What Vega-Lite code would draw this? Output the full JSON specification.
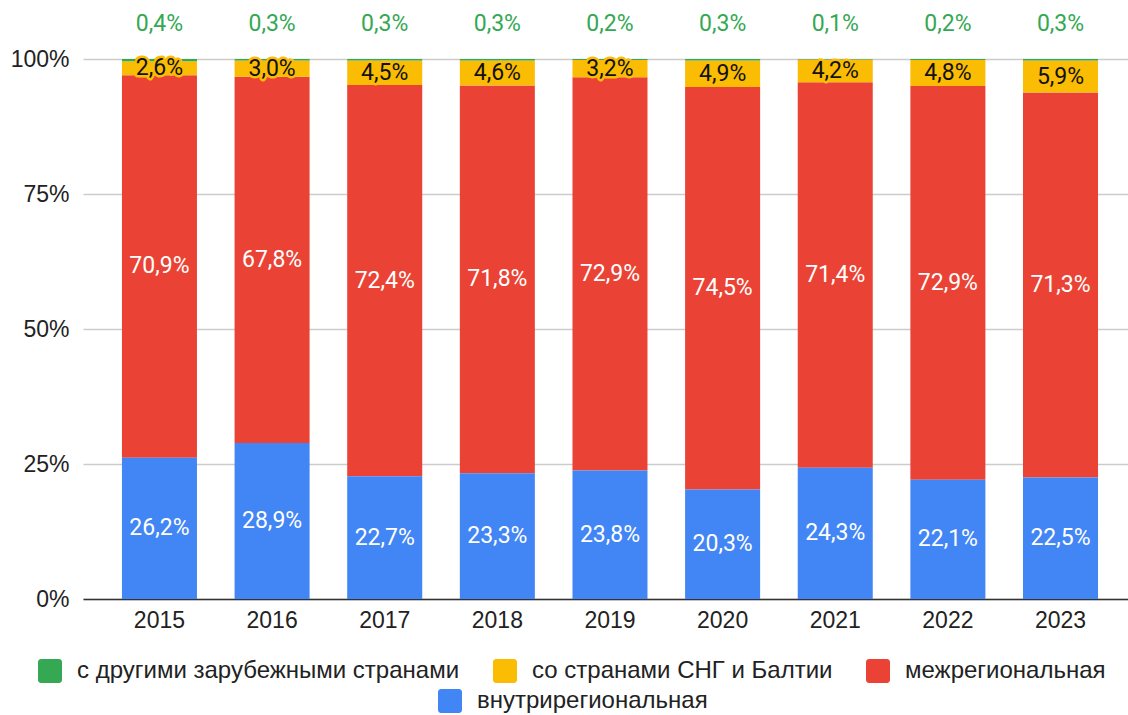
{
  "$schema": "https://vega.github.io/schema/vega-lite/v6.json",
  "width": 1045,
  "height": 540,
  "autosize": {"type": "none"},
  "padding": {"left": 83, "top": 59, "right": 0, "bottom": 116},
  "background": "white",
  "data": {
    "values": [
      {"year": "2015", "cat": "внутрирегиональная", "share": 0.262},
      {"year": "2015", "cat": "межрегиональная", "share": 0.709},
      {"year": "2015", "cat": "со странами СНГ и Балтии", "share": 0.026},
      {"year": "2015", "cat": "с другими зарубежными странами", "share": 0.004},
      {"year": "2016", "cat": "внутрирегиональная", "share": 0.289},
      {"year": "2016", "cat": "межрегиональная", "share": 0.678},
      {"year": "2016", "cat": "со странами СНГ и Балтии", "share": 0.030},
      {"year": "2016", "cat": "с другими зарубежными странами", "share": 0.003},
      {"year": "2017", "cat": "внутрирегиональная", "share": 0.227},
      {"year": "2017", "cat": "межрегиональная", "share": 0.724},
      {"year": "2017", "cat": "со странами СНГ и Балтии", "share": 0.045},
      {"year": "2017", "cat": "с другими зарубежными странами", "share": 0.003},
      {"year": "2018", "cat": "внутрирегиональная", "share": 0.233},
      {"year": "2018", "cat": "межрегиональная", "share": 0.718},
      {"year": "2018", "cat": "со странами СНГ и Балтии", "share": 0.046},
      {"year": "2018", "cat": "с другими зарубежными странами", "share": 0.003},
      {"year": "2019", "cat": "внутрирегиональная", "share": 0.238},
      {"year": "2019", "cat": "межрегиональная", "share": 0.729},
      {"year": "2019", "cat": "со странами СНГ и Балтии", "share": 0.032},
      {"year": "2019", "cat": "с другими зарубежными странами", "share": 0.002},
      {"year": "2020", "cat": "внутрирегиональная", "share": 0.203},
      {"year": "2020", "cat": "межрегиональная", "share": 0.745},
      {"year": "2020", "cat": "со странами СНГ и Балтии", "share": 0.049},
      {"year": "2020", "cat": "с другими зарубежными странами", "share": 0.003},
      {"year": "2021", "cat": "внутрирегиональная", "share": 0.243},
      {"year": "2021", "cat": "межрегиональная", "share": 0.714},
      {"year": "2021", "cat": "со странами СНГ и Балтии", "share": 0.042},
      {"year": "2021", "cat": "с другими зарубежными странами", "share": 0.001},
      {"year": "2022", "cat": "внутрирегиональная", "share": 0.221},
      {"year": "2022", "cat": "межрегиональная", "share": 0.729},
      {"year": "2022", "cat": "со странами СНГ и Балтии", "share": 0.048},
      {"year": "2022", "cat": "с другими зарубежными странами", "share": 0.002},
      {"year": "2023", "cat": "внутрирегиональная", "share": 0.225},
      {"year": "2023", "cat": "межрегиональная", "share": 0.713},
      {"year": "2023", "cat": "со странами СНГ и Балтии", "share": 0.059},
      {"year": "2023", "cat": "с другими зарубежными странами", "share": 0.003}
    ]
  },
  "transform": [
    {"calculate": "indexof(['внутрирегиональная','межрегиональная','со странами СНГ и Балтии','с другими зарубежными странами'], datum.cat)", "as": "ord"},
    {"stack": "share", "groupby": ["year"], "sort": [{"field": "ord", "order": "ascending"}], "offset": "normalize", "as": ["y0", "y1"]},
    {"calculate": "(datum.y0 + datum.y1) / 2", "as": "ymid"}
  ],
  "encoding": {
    "x": {
      "field": "year",
      "type": "ordinal",
      "scale": {"paddingInner": 0.334, "paddingOuter": 0.306, "align": 0.565},
      "axis": {
        "title": null,
        "labelAngle": 0,
        "ticks": false,
        "domainColor": "#333333",
        "domainWidth": 1.5,
        "labelFontSize": 23,
        "labelFont": "Liberation Sans",
        "labelColor": "#222222",
        "labelPadding": 10
      }
    }
  },
  "layer": [
    {
      "transform": [{"filter": "datum.cat != 'внутрирегиональная'"}],
      "mark": {"type": "bar"},
      "encoding": {
        "y": {
          "field": "y0",
          "type": "quantitative",
          "scale": {"domain": [0, 1], "nice": false},
          "axis": {"title": null, "values": [0, 0.25, 0.5, 0.75, 1], "format": ".0%", "domain": false, "ticks": false, "gridColor": "#cccccc", "gridWidth": 1.5, "labelFontSize": 23, "labelFont": "Liberation Sans", "labelColor": "#222222", "labelPadding": 14}
        },
        "y2": {"field": "y1"},
        "color": {
          "field": "cat",
          "type": "nominal",
          "scale": {
            "domain": ["с другими зарубежными странами", "со странами СНГ и Балтии", "межрегиональная"],
            "range": ["#34a853", "#fbbc04", "#ea4335"]
          },
          "legend": {
            "title": null,
            "orient": "none",
            "legendX": -45,
            "legendY": 600,
            "direction": "horizontal",
            "symbolType": "M-0.75,-1H0.75A0.25,0.25 0 0 1 1,-0.75V0.75A0.25,0.25 0 0 1 0.75,1H-0.75A0.25,0.25 0 0 1 -1,0.75V-0.75A0.25,0.25 0 0 1 -0.75,-1Z",
            "symbolSize": 576,
            "symbolStrokeWidth": 0,
            "symbolOpacity": 1,
            "labelFontSize": 24,
            "labelFont": "Liberation Sans",
            "labelColor": "#222222",
            "labelOffset": 15,
            "labelLimit": 600,
            "columnPadding": 33,
            "padding": 0
          }
        }
      }
    },
    {
      "transform": [{"filter": "datum.cat == 'внутрирегиональная'"}],
      "mark": {"type": "bar"},
      "encoding": {
        "y": {
          "field": "y0",
          "type": "quantitative",
          "scale": {"domain": [0, 1], "nice": false},
          "axis": {"title": null, "values": [0, 0.25, 0.5, 0.75, 1], "format": ".0%", "domain": false, "ticks": false, "gridColor": "#cccccc", "gridWidth": 1.5, "labelFontSize": 23, "labelFont": "Liberation Sans", "labelColor": "#222222", "labelPadding": 14}
        },
        "y2": {"field": "y1"},
        "fill": {
          "field": "cat",
          "type": "nominal",
          "scale": {"domain": ["внутрирегиональная"], "range": ["#4285f4"]},
          "legend": {
            "title": null,
            "orient": "none",
            "legendX": 355,
            "legendY": 630,
            "direction": "horizontal",
            "symbolType": "M-0.75,-1H0.75A0.25,0.25 0 0 1 1,-0.75V0.75A0.25,0.25 0 0 1 0.75,1H-0.75A0.25,0.25 0 0 1 -1,0.75V-0.75A0.25,0.25 0 0 1 -0.75,-1Z",
            "symbolSize": 576,
            "symbolStrokeWidth": 0,
            "symbolOpacity": 1,
            "labelFontSize": 24,
            "labelFont": "Liberation Sans",
            "labelColor": "#222222",
            "labelOffset": 15,
            "labelLimit": 600,
            "padding": 0
          }
        }
      }
    },
    {
      "transform": [{"filter": "datum.cat == 'внутрирегиональная' || datum.cat == 'межрегиональная'"}],
      "mark": {"type": "text", "fontSize": 23, "font": "Roboto", "color": "white", "baseline": "middle"},
      "encoding": {
        "y": {
          "field": "ymid",
          "type": "quantitative",
          "scale": {"domain": [0, 1], "nice": false},
          "axis": {"title": null, "values": [0, 0.25, 0.5, 0.75, 1], "format": ".0%", "domain": false, "ticks": false, "gridColor": "#cccccc", "gridWidth": 1.5, "labelFontSize": 23, "labelFont": "Liberation Sans", "labelColor": "#222222", "labelPadding": 14}
        },
        "text": {"field": "share", "type": "quantitative", "format": ".1%"}
      }
    },
    {
      "transform": [{"filter": "datum.cat == 'со странами СНГ и Балтии'"}],
      "mark": {"type": "text", "fontSize": 23, "font": "Roboto", "color": "#fbbc04", "stroke": "#fbbc04", "strokeWidth": 5, "strokeJoin": "round", "baseline": "middle"},
      "encoding": {
        "y": {
          "field": "ymid",
          "type": "quantitative",
          "scale": {"domain": [0, 1], "nice": false},
          "axis": {"title": null, "values": [0, 0.25, 0.5, 0.75, 1], "format": ".0%", "domain": false, "ticks": false, "gridColor": "#cccccc", "gridWidth": 1.5, "labelFontSize": 23, "labelFont": "Liberation Sans", "labelColor": "#222222", "labelPadding": 14}
        },
        "text": {"field": "share", "type": "quantitative", "format": ".1%"}
      }
    },
    {
      "transform": [{"filter": "datum.cat == 'со странами СНГ и Балтии'"}],
      "mark": {"type": "text", "fontSize": 23, "font": "Roboto", "color": "#111111", "baseline": "middle"},
      "encoding": {
        "y": {
          "field": "ymid",
          "type": "quantitative",
          "scale": {"domain": [0, 1], "nice": false},
          "axis": {"title": null, "values": [0, 0.25, 0.5, 0.75, 1], "format": ".0%", "domain": false, "ticks": false, "gridColor": "#cccccc", "gridWidth": 1.5, "labelFontSize": 23, "labelFont": "Liberation Sans", "labelColor": "#222222", "labelPadding": 14}
        },
        "text": {"field": "share", "type": "quantitative", "format": ".1%"}
      }
    },
    {
      "transform": [{"filter": "datum.cat == 'с другими зарубежными странами'"}],
      "mark": {"type": "text", "fontSize": 23, "font": "Roboto", "color": "#34a853", "baseline": "middle", "dy": -35},
      "encoding": {
        "y": {
          "field": "y1",
          "type": "quantitative",
          "scale": {"domain": [0, 1], "nice": false},
          "axis": {"title": null, "values": [0, 0.25, 0.5, 0.75, 1], "format": ".0%", "domain": false, "ticks": false, "gridColor": "#cccccc", "gridWidth": 1.5, "labelFontSize": 23, "labelFont": "Liberation Sans", "labelColor": "#222222", "labelPadding": 14}
        },
        "text": {"field": "share", "type": "quantitative", "format": ".1%"}
      }
    }
  ],
  "config": {
    "view": {"stroke": null},
    "locale": {
      "number": {"decimal": ",", "thousands": " ", "grouping": [3], "currency": ["", " ₽"]}
    }
  }
}
